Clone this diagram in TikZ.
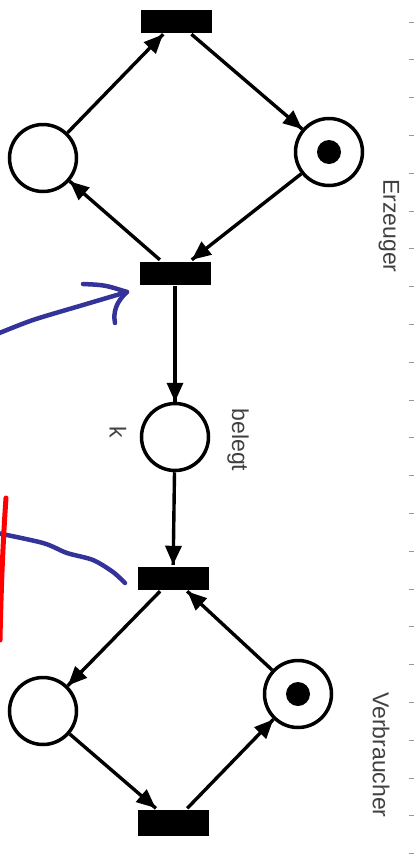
\documentclass[tikz,border=0pt]{standalone}
\usepackage{fontspec}
\setmainfont{Liberation Sans}
\usepackage{tikz}
\usetikzlibrary{arrows.meta}
\usetikzlibrary{decorations.markings}
\tikzset{->/.style = {decoration={markings,
                                  mark=at position 1 with {\arrow{Triangle[length=19pt, width=16pt]}}},
                      postaction={decorate}}}
\tikzset{place/.style = {circle, draw, line width=3.5pt, minimum size=67pt, inner sep=0pt},
         trans/.style = {rectangle, fill, minimum width=71pt, minimum height=23pt, inner sep=0pt},
         lbl/.style = {text=black!75, font=\fontsize{23}{26}\selectfont, rotate=-90},
         hand/.style = {line width=4.5pt, line cap=round, line join=round}}
\definecolor{mblue}{rgb}{0.2, 0.2, 0.6}
\definecolor{mred}{rgb}{1, 0, 0}

\begin{document}
\begin{tikzpicture}[x=1pt, y=-1pt, line width=3.4pt]
      \useasboundingbox (0, 0) rectangle (414, 855);

      % Erzeuger
      \node [trans] (t1) at (176, 21) {};
      \node [place] (p1) at (43, 158) {};
      \node [place] (p2) at (329, 152) {};
      \node [trans] (t2) at (175, 273) {};
      \fill (p2) circle (12pt);

      % Puffer
      \node [place] (b) at (175, 437) {};

      % Verbraucher
      \node [trans] (t3) at (173, 578) {};
      \node [place] (p4) at (43, 711) {};
      \node [place] (p5) at (298, 694) {};
      \node [trans, minimum height=26pt] (t4) at (173, 823) {};
      \fill (p5) circle (12pt);

      \draw [->] (p1) -- (t1);
      \draw [->] (t1) -- (p2);
      \draw [->] (p2) -- (t2);
      \draw [->] (t2) -- (p1);
      \draw [->] (t2) -- (b);
      \draw [->] (b) -- (t3);
      \draw [->] (t3) -- (p4);
      \draw [->] (p4) -- (t4);
      \draw [->] (t4) -- (p5);
      \draw [->] (p5) -- (t3);

      \node [lbl] (erz) at (389, 226) {Erzeuger};
      \node [lbl] (bel) at (238, 440) {belegt};
      \node [lbl] (kap) at (118, 432) {k};
      \node [lbl] (ver) at (381, 755) {Verbraucher};

      % Randmarken
      \foreach \i in {0, ..., 22}
        \draw [black!40, line width=1pt] (409, 22 + 37.8*\i) -- (414, 22 + 37.8*\i);

      % Handnotizen
      \draw [mblue, hand] plot [smooth] coordinates {(-3, 334) (33, 320) (83, 305) (127, 292)};
      \draw [mblue, hand] (83, 284) .. controls (105, 285) .. (127, 292)
                                   .. controls (116, 302) and (113, 312) .. (115, 323);
      \draw [mblue, hand] plot [smooth] coordinates {(-3, 533) (43, 543) (67, 553) (93, 560) (113, 572) (125, 583)};
      \draw [mred, line width=5pt, line cap=round] (6, 498) .. controls (3, 540) and (1, 590) .. (0, 640);
    \end{tikzpicture}
\end{document}
